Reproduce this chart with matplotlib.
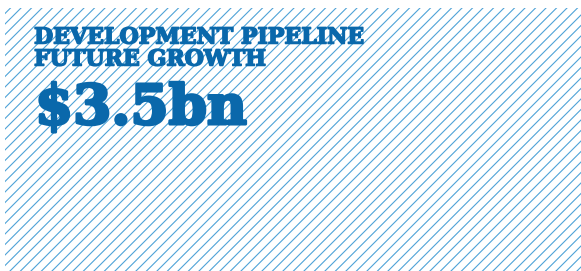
import matplotlib
matplotlib.use('Agg')
import numpy as np
import matplotlib.pyplot as plt
import matplotlib.patheffects as pe
from matplotlib.patches import Rectangle

W, H = 581, 271

heading = ['DEVELOPMENT PIPELINE', 'FUTURE GROWTH']
value_label = '$3.5bn'

text_color = '#0a68ab'
hatch_color = '#4fa3d8'

fig = plt.figure(figsize=(W / 100, H / 100), dpi=100)
ax = fig.add_axes([0, 0, 1, 1])
ax.set_xlim(0, W)
ax.set_ylim(H, 0)
ax.axis('off')

# hatched background panel, lines at 45 degrees, ~10.5px apart horizontally
panel = Rectangle((5, 8), W - 5, H - 8, facecolor='none', edgecolor='none')
ax.add_patch(panel)
spacing = 10.5
for c in np.arange(8, W + H + 20, spacing):
    ln, = ax.plot([c - H - 10, c + 10], [H + 10, -10], color=hatch_color, lw=0.8)
    ln.set_clip_path(panel)

fx = [pe.withStroke(linewidth=1.1, foreground=text_color)]
ax.text(34, 43.5, heading[0], fontsize=15.9, fontweight='bold', family='DejaVu Serif',
        color=text_color, va='baseline', ha='left', path_effects=fx)
ax.text(34, 65.5, heading[1], fontsize=15.9, fontweight='bold', family='DejaVu Serif',
        color=text_color, va='baseline', ha='left', path_effects=fx)
ax.text(35, 124, value_label, fontsize=39.5, fontweight='bold', family='DejaVu Serif',
        color=text_color, va='baseline', ha='left',
        path_effects=[pe.withStroke(linewidth=2.2, foreground=text_color)])

fig.savefig('out.png', dpi=100)
plt.close(fig)
